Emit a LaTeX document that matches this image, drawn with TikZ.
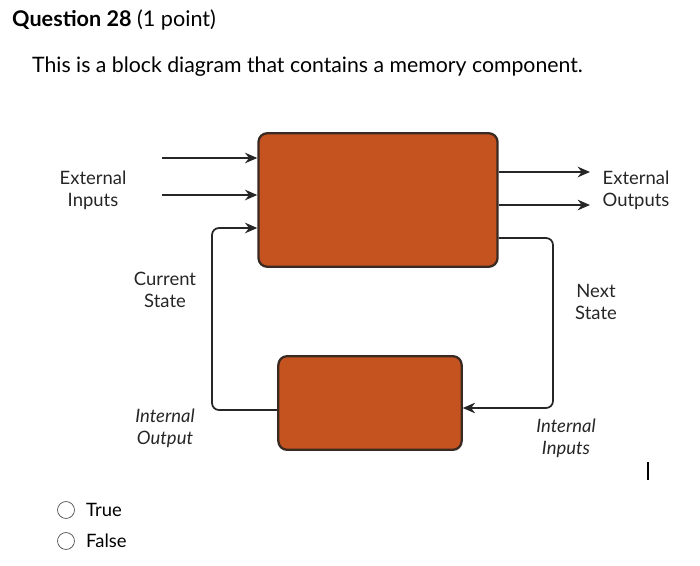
\documentclass[tikz,border=0pt]{standalone}
\usepackage{fontspec}
\setmainfont{Lato}
\usetikzlibrary{arrows.meta}
\definecolor{boxfill}{HTML}{C4531F}
\definecolor{boxline}{HTML}{3A2A22}
\begin{document}
\begin{tikzpicture}[x=0.02cm,y=-0.02cm,
  blk/.style={draw=boxline,line width=1.3pt,fill=boxfill,rounded corners=5pt,inner sep=0pt},
  wire/.style={line width=1pt,draw=black!85},
  arr/.style={wire,-{Stealth[length=7pt,width=6pt]}},
  lbl/.style={align=center,font=\fontsize{10.5}{12.5}\selectfont,text=black!85},
  radio/.style={circle,draw=black!70,minimum size=17pt*0.567,inner sep=0pt}]
\useasboundingbox (0,0) rectangle (700,565);
\node[anchor=west,font=\fontsize{12.3}{14}\selectfont] (q) at (6,20) {\textbf{Question 28} (1 point)};
\node[anchor=west,font=\fontsize{12.1}{14}\selectfont] (t) at (26,67) {This is a block diagram that contains a memory component.};
\node[blk,minimum width=240*0.567pt,minimum height=134*0.567pt] (big) at (378,200) {};
\node[blk,minimum width=184*0.567pt,minimum height=94*0.567pt] (mem) at (370,403) {};
\coordinate (i1) at (162,158); \coordinate (i2) at (162,195);
\draw[arr] (i1) -- (i1 -| big.west);
\draw[arr] (i2) -- (i2 -| big.west);
\coordinate (o1) at (590,172); \coordinate (o2) at (590,205);
\draw[arr] (o1 -| big.east) -- (o1);
\draw[arr] (o2 -| big.east) -- (o2);
\draw[arr,rounded corners=4pt] (mem.west |- 0,410) -- (212,410) -- (212,228) -- (big.west |- 0,228);
\draw[arr,rounded corners=4pt] (big.east |- 0,238) -- (553,238) -- (553,408) -- (mem.east |- 0,408);
\node[lbl] (ei) at (93,190) {External\\Inputs};
\node[lbl] (cs) at (165,290) {Current\\State};
\node[lbl,font=\fontsize{10.5}{12.5}\selectfont\itshape] (io) at (165,428) {Internal\\Output};
\node[lbl] (eo) at (636,190) {External\\Outputs};
\node[lbl] (ns) at (596,302) {Next\\State};
\node[lbl,font=\fontsize{10.5}{12.5}\selectfont\itshape] (ii) at (566,438) {Internal\\Inputs};
\draw[line width=0.8pt] (648,462) -- (648,480);
\node[radio] (r1) at (66,510) {};
\node[radio] (r2) at (66,541) {};
\node[anchor=west,font=\fontsize{10.5}{12}\selectfont] (tr) at (80,510) {True};
\node[anchor=west,font=\fontsize{10.5}{12}\selectfont] (fa) at (80,541) {False};
\end{tikzpicture}
\end{document}
